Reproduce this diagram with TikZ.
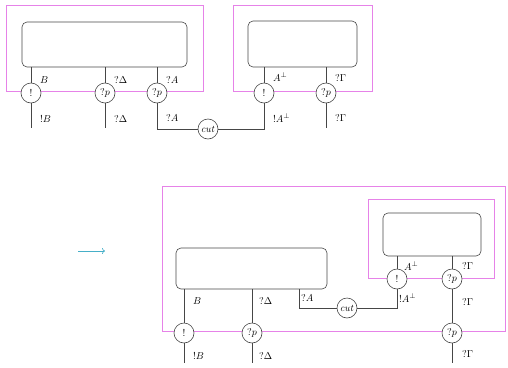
\documentclass[tikz,border=0pt]{standalone}
\usetikzlibrary{arrows.meta}
\definecolor{pmag}{RGB}{230,130,232}
\definecolor{wire}{RGB}{70,70,70}
\definecolor{arr}{RGB}{70,175,200}
\begin{document}
\begin{tikzpicture}[x=1pt,y=-1pt,
  box/.style={draw=pmag, line width=0.9pt, inner sep=0, anchor=north west},
  proof/.style={draw=wire, line width=0.6pt, rounded corners=5pt, inner sep=0},
  circ/.style={circle, draw=wire, line width=0.6pt, fill=white, minimum size=20pt, inner sep=0, font=\normalsize},
  lab/.style={anchor=west, inner sep=0, font=\normalsize},
  wr/.style={draw=wire, line width=0.6pt}]
\useasboundingbox (0,0) rectangle (508,367);
% ---------- top left ----------
\node[box, minimum width=197pt, minimum height=86pt] (m1) at (6,5) {};
\node[proof, minimum width=165pt, minimum height=45pt] (p1) at (104.5,44.5) {};
\node[circ] (c1) at (31,93) {$!$};
\node[circ] (c2) at (105,93) {$?p$};
\node[circ] (c3) at (157,93) {$?p$};
\coordinate (e1) at (31,128);
\coordinate (e2) at (105,128);
\draw[wr] (p1.south -| c1) -- (c1) (c1) -- (e1);
\draw[wr] (p1.south -| c2) -- (c2) (c2) -- (e2);
\draw[wr] (p1.south -| c3) -- (c3);
% ---------- top right ----------
\node[box, minimum width=139pt, minimum height=86pt] (m2) at (233,5) {};
\node[proof, minimum width=109pt, minimum height=46pt] (p2) at (302.5,44) {};
\node[circ] (c4) at (264,93) {$!$};
\node[circ] (c5) at (326,93) {$?p$};
\coordinate (e5) at (326,128);
\draw[wr] (p2.south -| c4) -- (c4);
\draw[wr] (p2.south -| c5) -- (c5) (c5) -- (e5);
\node[circ] (cut1) at (208,129) {$\mathit{cut}$};
\draw[wr] (c3) |- (cut1);
\draw[wr] (cut1) -| (c4);
% labels top
\node[lab] (l1) at (40,80) {$B$};
\node[lab] (l2) at (114,80) {$?\Delta$};
\node[lab] (l3) at (166,80) {$?A$};
\node[lab] (l4) at (40,119) {$!B$};
\node[lab] (l5) at (114,119) {$?\Delta$};
\node[lab] (l6) at (166,118) {$?A$};
\node[lab] (l7) at (273,77) {$A^{\perp}$};
\node[lab] (l8) at (335,78) {$?\Gamma$};
\node[lab] (l9) at (273,118) {$!A^{\perp}$};
\node[lab] (l10) at (335,118) {$?\Gamma$};
% ---------- arrow ----------
\coordinate (a1) at (78,251);
\coordinate (a2) at (105,251);
\draw[arr, line width=0.7pt, -{To[length=3pt,width=6pt]}] (a1) -- (a2);
% ---------- bottom ----------
\node[box, minimum width=343pt, minimum height=145pt] (m3) at (162,186) {};
\node[box, minimum width=126pt, minimum height=79pt] (m4) at (368,199) {};
\node[proof, minimum width=151pt, minimum height=41pt] (p3) at (251.5,268.5) {};
\node[proof, minimum width=98pt, minimum height=43pt] (p4) at (432,234.5) {};
\node[circ] (c6) at (184,333) {$!$};
\node[circ] (c7) at (252,333) {$?p$};
\node[circ] (c8) at (397,279) {$!$};
\node[circ] (c9) at (452,279) {$?p$};
\node[circ] (c10) at (452,333) {$?p$};
\node[circ] (cut2) at (347,308) {$\mathit{cut}$};
\coordinate (e6) at (184,363);
\coordinate (e7) at (252,363);
\coordinate (e10) at (452,363);
\coordinate (s3) at (299,289);
\draw[wr] (p3.south -| c6) -- (c6) (c6) -- (e6);
\draw[wr] (p3.south -| c7) -- (c7) (c7) -- (e7);
\draw[wr] (s3) |- (cut2);
\draw[wr] (cut2) -| (c8);
\draw[wr] (p4.south -| c8) -- (c8);
\draw[wr] (p4.south -| c9) -- (c9) (c9) -- (c10) (c10) -- (e10);
% labels bottom
\node[lab] (b1) at (193,301) {$B$};
\node[lab] (b2) at (259,301) {$?\Delta$};
\node[lab] (b3) at (301,298) {$?A$};
\node[lab] (b4) at (193,356) {$!B$};
\node[lab] (b5) at (259,356) {$?\Delta$};
\node[lab] (b6) at (404,266) {$A^{\perp}$};
\node[lab] (b7) at (462,266) {$?\Gamma$};
\node[lab] (b8) at (399,298) {$!A^{\perp}$};
\node[lab] (b9) at (462,302) {$?\Gamma$};
\node[lab] (b10) at (462,354) {$?\Gamma$};
\end{tikzpicture}
\end{document}
